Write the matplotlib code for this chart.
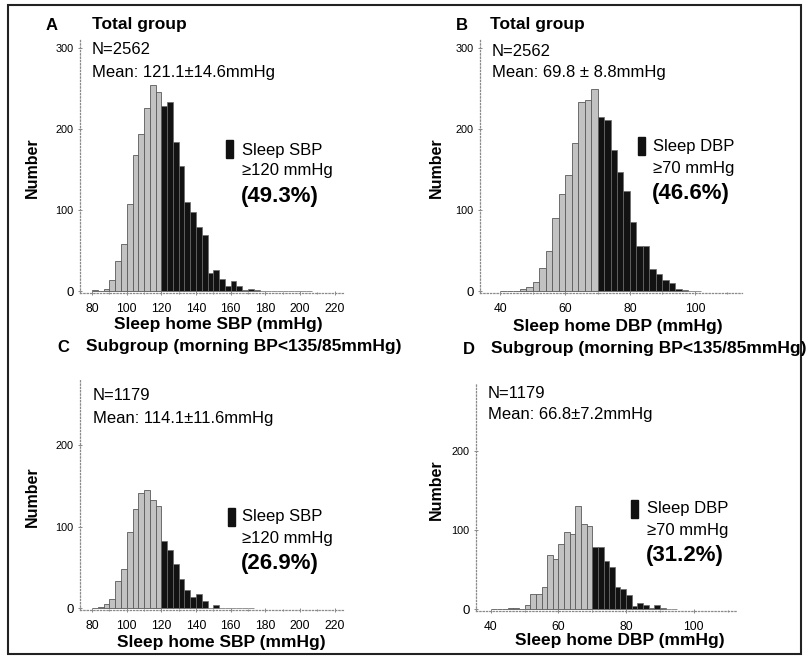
import numpy as np
import matplotlib
matplotlib.use("Agg")
import matplotlib.pyplot as plt
from matplotlib.patches import Rectangle

plt.rcParams['font.family'] = ['Liberation Sans', 'DejaVu Sans']

# ---------------- data ----------------
# Panel A: total group, sleep home SBP (bins start at 80 mmHg)
sbp_total_below = [2, 1, 3, 14, 37, 59, 108, 168, 194, 226, 255, 246]
sbp_total_above = [228, 233, 184, 155, 110, 98, 79, 70, 23, 26, 15, 7, 13, 7,
                   2, 3, 2, 1, 0, 1, 1, 1, 0, 0, 0, 1]
# Panel B: total group, sleep home DBP (bins start at 40 mmHg)
dbp_total_below = [1, 1, 1, 3, 5, 12, 29, 50, 90, 120, 144, 183, 234, 236, 249]
dbp_total_above = [215, 211, 174, 147, 124, 85, 56, 56, 28, 22, 14, 10, 3, 2, 1, 1]
# Panel C: subgroup, sleep home SBP (bins start at 80 mmHg)
sbp_sub_below = [1, 2, 5, 11, 34, 48, 94, 122, 141, 145, 133, 125]
sbp_sub_above = [83, 71, 55, 36, 22, 14, 18, 9, 1, 4, 1, 1, 0, 0, 0, 1]
# Panel D: subgroup, sleep home DBP (bins start at 40 mmHg)
dbp_sub_below = [1, 0, 1, 2, 2, 0, 5, 20, 20, 28, 69, 64, 82, 97, 95, 130, 107, 105]
dbp_sub_above = [79, 79, 61, 54, 28, 26, 18, 4, 8, 5, 2, 5, 2, 1, 1]

panel_letters = ["A", "B", "C", "D"]
panel_titles = ["Total group", "Total group",
                "Subgroup (morning BP<135/85mmHg)", "Subgroup (morning BP<135/85mmHg)"]
n_texts = ["N=2562", "N=2562", "N=1179", "N=1179"]
mean_texts = ["Mean: 121.1\u00b114.6mmHg", "Mean: 69.8 \u00b1 8.8mmHg",
              "Mean: 114.1\u00b111.6mmHg", "Mean: 66.8\u00b17.2mmHg"]
legend_names = ["Sleep SBP", "Sleep DBP", "Sleep SBP", "Sleep DBP"]
legend_thresh = ["\u2265120 mmHg", "\u226570 mmHg", "\u2265120 mmHg", "\u226570 mmHg"]
legend_pct = ["(49.3%)", "(46.6%)", "(26.9%)", "(31.2%)"]
xlabels = ["Sleep home SBP (mmHg)", "Sleep home DBP (mmHg)",
           "Sleep home SBP (mmHg)", "Sleep home DBP (mmHg)"]
sbp_ticks = [80, 100, 120, 140, 160, 180, 200, 220]
dbp_ticks = [40, 60, 80, 100]
yticks_total = [0, 100, 200, 300]
yticks_sub = [0, 100, 200]

# ---------------- layout ----------------
W, H = 807, 663
fig = plt.figure(figsize=(W / 100, H / 100), dpi=100)


def ax_px(l, t, r, b):
    return fig.add_axes([l / W, 1 - b / H, (r - l) / W, (b - t) / H])


def ftext(x, y, s, **kw):
    kw.setdefault('va', 'center')
    kw.setdefault('ha', 'left')
    fig.text(x / W, 1 - y / H, s, **kw)


panels = [
    dict(box=(80, 40, 345, 293), xlim=(73, 226), ylim=(-2, 310), bw=10 / 3,
         thr=120, below=sbp_total_below, above=sbp_total_above, xt=sbp_ticks, yt=yticks_total),
    dict(box=(480, 40, 742, 293), xlim=(33.8, 114.5), ylim=(-2, 310), bw=2,
         thr=70, below=dbp_total_below, above=dbp_total_above, xt=dbp_ticks, yt=yticks_total),
    dict(box=(80, 380, 345, 610), xlim=(73, 226), ylim=(-2, 280), bw=10 / 3,
         thr=120, below=sbp_sub_below, above=sbp_sub_above, xt=sbp_ticks, yt=yticks_sub),
    dict(box=(476, 383, 737, 611), xlim=(35.6, 112.8), ylim=(-2, 285), bw=5 / 3,
         thr=70, below=dbp_sub_below, above=dbp_sub_above, xt=dbp_ticks, yt=yticks_sub),
]

for p in panels:
    ax = ax_px(*p['box'])
    nb = len(p['below'])
    lefts_b = p['thr'] - p['bw'] * np.arange(nb, 0, -1)
    lefts_a = p['thr'] + p['bw'] * np.arange(len(p['above']))
    ax.bar(lefts_b, p['below'], width=p['bw'], align='edge', color='#c2c2c2',
           edgecolor='#5a5a5a', linewidth=0.6)
    ax.bar(lefts_a, p['above'], width=p['bw'], align='edge', color='#121212',
           edgecolor='#6a6a6a', linewidth=0.5)
    ax.set_xlim(*p['xlim'])
    ax.set_ylim(*p['ylim'])
    for s in ['top', 'right']:
        ax.spines[s].set_visible(False)
    for s in ['left', 'bottom']:
        ax.spines[s].set_linestyle(':')
        ax.spines[s].set_color('#8a8a8a')
        ax.spines[s].set_linewidth(0.9)
    ax.set_xticks(p['xt'])
    ax.set_xticks(np.arange(p['xt'][0], p['xlim'][1], 10), minor=True)
    ax.set_xticklabels([str(v) for v in p['xt']], fontsize=8.7)
    ax.set_yticks(p['yt'])
    ax.set_yticklabels(['0'] + [str(v) for v in p['yt'][1:]])
    for lab in ax.get_yticklabels():
        lab.set_fontsize(9.5 if lab.get_text() == '0' else 7.8)
    ax.tick_params(axis='both', which='both', direction='inout', length=3, width=0.6,
                   color='#777777', pad=3)
    ax.tick_params(axis='x', which='both', pad=6)
    ax.tick_params(axis='x', which='minor', length=2)
    ax.patch.set_alpha(0)

# ---------------- text ----------------
bold = dict(fontweight='bold')
ftext(46, 25, "A", fontsize=12, **bold)
ftext(92, 25, panel_titles[0], fontsize=12.5, **bold)
ftext(456, 25, "B", fontsize=12, **bold)
ftext(490, 25, panel_titles[1], fontsize=12.5, **bold)
ftext(57, 347, "C", fontsize=12, **bold)
ftext(86, 347, panel_titles[2], fontsize=12.5, **bold)
ftext(463, 349, "D", fontsize=12, **bold)
ftext(491, 349, panel_titles[3], fontsize=12.5, **bold)

for (x, y1, y2), n, m in zip([(92, 50, 72), (492, 51, 72), (93, 396, 418), (488, 394, 415)],
                             n_texts, mean_texts):
    ftext(x, y1, n, fontsize=12)
    ftext(x, y2, m, fontsize=12)

for (rx, ry, tx, ty, gap), nm, th, pc in zip(
        [(226, 140, 242, 150, 21), (638, 137, 653, 146, 22), (228, 508, 242, 517, 21),
         (631, 500, 647, 509, 21)],
        legend_names, legend_thresh, legend_pct):
    fig.patches.append(Rectangle((rx / W, 1 - (ry + 18) / H), 7 / W, 18 / H,
                                 transform=fig.transFigure, color='#111111'))
    ftext(tx, ty, nm, fontsize=12)
    ftext(tx, ty + gap, th, fontsize=12)
    ftext(tx - 1, ty + gap + 25, pc, fontsize=16, **bold)

for (x, y) in [(32, 168), (436, 168), (32, 497), (436, 490)]:
    ftext(x, y, "Number", fontsize=11.5, rotation=90, ha='center', **bold)
for (x, y), lab in zip([(218, 325), (618, 326), (221, 643), (620, 641)], xlabels):
    ftext(x, y, lab, fontsize=12.5, ha='center', **bold)

fig.patches.append(Rectangle((8 / W, 1 - 654 / H), (801 - 8) / W, (654 - 5) / H,
                             transform=fig.transFigure, fill=False, lw=1.5, ec='#222222'))

fig.savefig("out.png", dpi=100)
